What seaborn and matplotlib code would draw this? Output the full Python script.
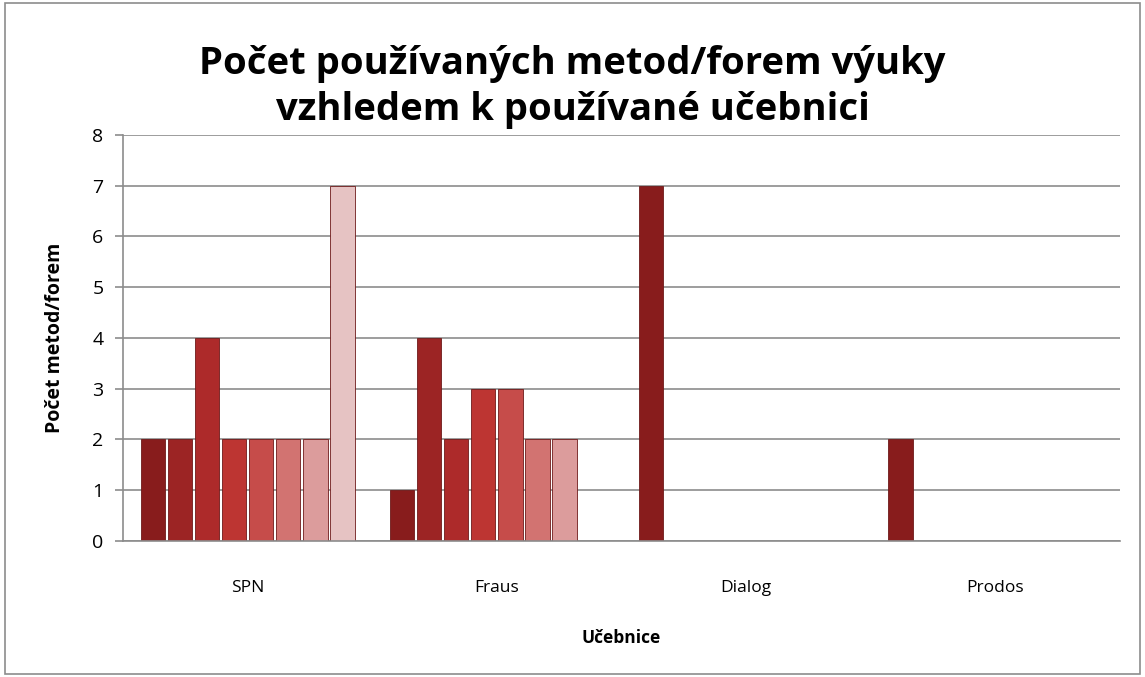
import numpy as np
import pandas as pd
import matplotlib
matplotlib.use("Agg")
import matplotlib.pyplot as plt
import seaborn as sns

# --- DATA
ucebnice = ['SPN', 'Fraus', 'Dialog', 'Prodos']
serie = ['1', '2', '3', '4', '5', '6', '7', '8']
spn = [2, 2, 4, 2, 2, 2, 2, 7]
fraus = [1, 4, 2, 3, 3, 2, 2, np.nan]
dialog = [7, np.nan, np.nan, np.nan, np.nan, np.nan, np.nan, np.nan]
prodos = [2, np.nan, np.nan, np.nan, np.nan, np.nan, np.nan, np.nan]

barvy = ['#881c1c', '#9c2424', '#ad2a2a', '#bd3532', '#c64c4a',
         '#d27371', '#dc9c9c', '#e6c3c3']

rows = []
for kat, vals in zip(ucebnice, [spn, fraus, dialog, prodos]):
    for s, v in zip(serie, vals):
        rows.append({'ucebnice': kat, 'serie': s, 'pocet': v})
df = pd.DataFrame(rows)

sns.set_style('white')
plt.rcParams['font.family'] = ['Open Sans', 'DejaVu Sans']
plt.rcParams['text.color'] = 'black'
plt.rcParams['axes.labelcolor'] = 'black'
plt.rcParams['xtick.color'] = 'black'
plt.rcParams['ytick.color'] = 'black'

fig = plt.figure(figsize=(11.45, 6.77), dpi=100)
ax = fig.add_axes([0.1074, 0.2009, 0.8706, 0.5997])

sns.barplot(data=df, x='ucebnice', y='pocet', hue='serie', order=ucebnice,
            hue_order=serie, palette=barvy, saturation=1, width=0.87, gap=0.1,
            edgecolor='#6e1a1a', linewidth=0.6, legend=False, ax=ax)

ax.set_xlim(-0.5, 3.5)
ax.set_ylim(0, 8)
ax.set_yticks(range(0, 9))
ax.yaxis.grid(True, color='#8c8c8c', linewidth=1.2)
ax.set_axisbelow(True)
for s in ['top', 'right']:
    ax.spines[s].set_visible(False)
for s in ['left', 'bottom']:
    ax.spines[s].set_color('#8c8c8c')
    ax.spines[s].set_linewidth(1.2)

ax.set_xticks(np.arange(-0.5, 3.6, 1), minor=True)
ax.tick_params(axis='x', which='major', length=0, pad=28, labelsize=12.5)
ax.tick_params(axis='x', which='minor', length=6, color='#8c8c8c', width=1.2)
ax.tick_params(axis='y', length=6, color='#8c8c8c', width=1.2, labelsize=14,
               left=True, pad=8)

ax.set_xlabel('Učebnice', fontsize=12.5, fontweight='bold', labelpad=24)
ax.set_ylabel('Počet metod/forem', fontsize=14, fontweight='bold', labelpad=20)

fig.text(0.5, 0.81, 'Počet používaných metod/forem výuky\nvzhledem k používané učebnici',
         ha='center', va='bottom', fontsize=27.5, fontweight='bold',
         linespacing=1.25)

# ramecek kolem grafu
fig.patches.append(plt.Rectangle((0.004, 0.004), 0.992, 0.992, transform=fig.transFigure,
                                 fill=False, edgecolor='#8c8c8c', linewidth=1.2))

fig.savefig('out.png', dpi=100)
